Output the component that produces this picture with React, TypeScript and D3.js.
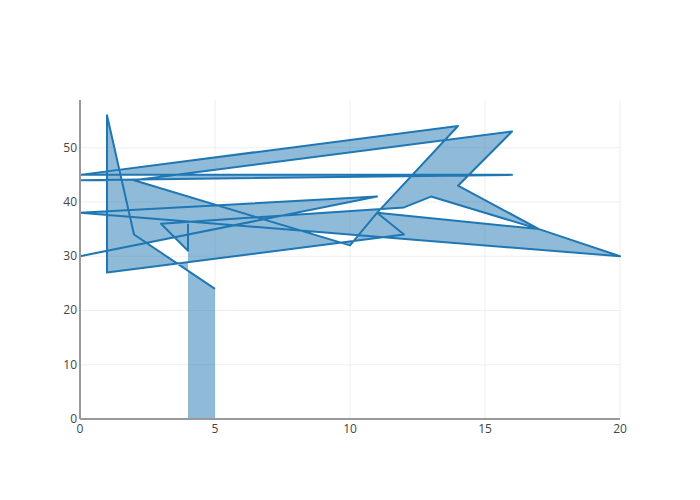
import React from "react";
import * as d3 from "d3";

const xs = [4, 4, 3, 12, 13, 17, 14, 16, 2, 10, 11, 12, 1, 1, 0, 16, 0, 14, 11, 17, 20, 0, 11, 0, 1, 1, 2, 5];
const ys = [36, 31, 36, 39, 41, 35, 43, 53, 44, 32, 38, 34, 27, 44, 44, 45, 45, 54, 38, 35, 30, 38, 41, 30, 31, 56, 34, 24];
const xTicks = [0, 5, 10, 15, 20];
const yTicks = [0, 10, 20, 30, 40, 50];

const W = 700, H = 500;
const M = { l: 80, r: 80, t: 100, b: 81 };

export default function App() {
  const x = d3.scaleLinear().domain([0, 20]).range([M.l, W - M.r]);
  const y = d3.scaleLinear().domain([0, 58.8]).range([H - M.b, M.t]);
  const pts = xs.map((v, i) => [v, ys[i]] as [number, number]);
  const line = d3.line<[number, number]>().x(d => x(d[0])).y(d => y(d[1]));
  const fillPts: [number, number][] = [[xs[0], 0], ...pts, [xs[xs.length - 1], 0]];
  return (
    <svg width={W} height={H} style={{ position: "absolute", left: 0, top: 0, fontFamily: "'Open Sans', sans-serif" }}>
      <rect width={W} height={H} fill="#fff" />
      {xTicks.slice(1).map(t => (
        <line key={"gx" + t} x1={x(t)} x2={x(t)} y1={M.t} y2={H - M.b} stroke="#eee" strokeWidth={1} />
      ))}
      {yTicks.slice(1).map(t => (
        <line key={"gy" + t} x1={M.l} x2={W - M.r} y1={y(t)} y2={y(t)} stroke="#eee" strokeWidth={1} />
      ))}
      <path d={line(fillPts) + "Z"} fill="rgba(31,119,180,0.5)" stroke="none" />
      <path d={line(pts) || ""} fill="none" stroke="#1f77b4" strokeWidth={2} strokeLinejoin="round" />
      <line x1={M.l} x2={W - M.r} y1={y(0)} y2={y(0)} stroke="#999" strokeWidth={2} />
      <line x1={M.l} x2={M.l} y1={M.t} y2={y(0)} stroke="#999" strokeWidth={2} />
      {xTicks.map(t => (
        <text key={"tx" + t} x={x(t)} y={y(0) + 14} textAnchor="middle" fontSize={12} fill="#444">{t}</text>
      ))}
      {yTicks.map(t => (
        <text key={"ty" + t} x={M.l - 3} y={y(t) + 4} textAnchor="end" fontSize={12} fill="#444">{t}</text>
      ))}
    </svg>
  );
}
